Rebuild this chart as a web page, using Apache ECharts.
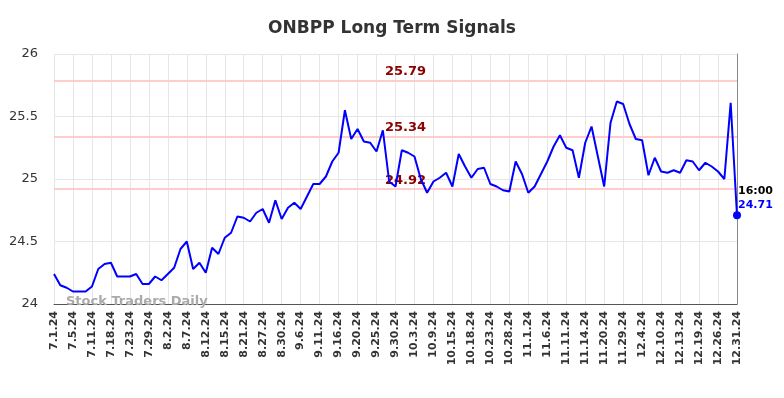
<!DOCTYPE html>
<html lang="en" style="height: 100%">
<head>
  <meta charset="utf-8">
</head>
<body style="height: 100%; margin: 0">
  <div id="container" style="width: 784px; height: 398px"></div>

  <script type="text/javascript" src="https://cdn.jsdelivr.net/npm/echarts@6/dist/echarts.min.js"></script>

  <script type="text/javascript">
    const dates = [
      '7.1.24', '7.2.24', '7.3.24', '7.5.24', '7.8.24', '7.10.24', '7.11.24', '7.12.24', '7.16.24',
      '7.18.24', '7.19.24', '7.22.24', '7.23.24', '7.24.24', '7.26.24', '7.29.24', '7.30.24', '8.1.24',
      '8.2.24', '8.5.24', '8.6.24', '8.7.24', '8.8.24', '8.9.24', '8.12.24', '8.13.24', '8.14.24',
      '8.15.24', '8.16.24', '8.19.24', '8.21.24', '8.22.24', '8.26.24', '8.27.24', '8.28.24', '8.29.24',
      '8.30.24', '9.3.24', '9.5.24', '9.6.24', '9.9.24', '9.10.24', '9.11.24', '9.12.24', '9.13.24',
      '9.16.24', '9.17.24', '9.19.24', '9.20.24', '9.23.24', '9.24.24', '9.25.24', '9.26.24', '9.27.24',
      '9.30.24', '10.1.24', '10.2.24', '10.3.24', '10.7.24', '10.8.24', '10.9.24', '10.11.24', '10.14.24',
      '10.15.24', '10.16.24', '10.17.24', '10.18.24', '10.21.24', '10.22.24', '10.23.24', '10.24.24', '10.25.24',
      '10.28.24', '10.30.24', '10.31.24', '11.1.24', '11.4.24', '11.5.24', '11.6.24', '11.7.24', '11.8.24',
      '11.11.24', '11.12.24', '11.13.24', '11.14.24', '11.18.24', '11.19.24', '11.20.24', '11.22.24', '11.27.24',
      '11.29.24', '12.2.24', '12.3.24', '12.4.24', '12.5.24', '12.9.24', '12.10.24', '12.11.24', '12.12.24',
      '12.13.24', '12.17.24', '12.18.24', '12.19.24', '12.20.24', '12.24.24', '12.26.24', '12.27.24', '12.30.24',
      '12.31.24'
    ];
    const prices = [
      24.24, 24.15, 24.13, 24.10, 24.10, 24.10, 24.14, 24.28, 24.32, 24.33,
      24.22, 24.22, 24.22, 24.24, 24.16, 24.16, 24.22, 24.19, 24.24, 24.29,
      24.44, 24.50, 24.28, 24.33, 24.25, 24.45, 24.40, 24.53, 24.57, 24.70,
      24.69, 24.66, 24.73, 24.76, 24.65, 24.83, 24.68, 24.77, 24.81, 24.76,
      24.86, 24.96, 24.96, 25.02, 25.14, 25.21, 25.55, 25.32, 25.40, 25.30,
      25.29, 25.22, 25.39, 24.98, 24.94, 25.23, 25.21, 25.18, 25.00, 24.89,
      24.98, 25.01, 25.05, 24.94, 25.20, 25.10, 25.01, 25.08, 25.09, 24.96,
      24.94, 24.91, 24.90, 25.14, 25.04, 24.89, 24.94, 25.04, 25.14, 25.26,
      25.35, 25.25, 25.23, 25.01, 25.29, 25.42, 25.18, 24.94, 25.45, 25.62,
      25.60, 25.44, 25.32, 25.31, 25.03, 25.17, 25.06, 25.05, 25.07, 25.05,
      25.15, 25.14, 25.07, 25.13, 25.10, 25.06, 25.00, 25.61, 24.71
    ];
    const signalLevels = [25.79, 25.34, 24.92];
    const yTicks = [24, 24.5, 25, 25.5, 26];
    const lastTime = '16:00';

    var dom = document.getElementById('container');
    var myChart = echarts.init(dom, null, { renderer: 'canvas' });

    const lastIdx = prices.length - 1;

    var option = {
      animation: false,
      title: {
        text: 'ONBPP Long Term Signals',
        left: 'center',
        top: 15,
        textStyle: { fontSize: 17, fontWeight: 'bold', color: '#333', fontFamily: 'DejaVu Sans' }
      },
      grid: { left: 54, right: 47, top: 54, bottom: 94 },
      graphic: [
        {
          type: 'text',
          left: 66,
          top: 295,
          z: 10,
          style: {
            text: 'Stock Traders Daily',
            fill: '#aaaaaa',
            font: 'bold 13px DejaVu Sans'
          }
        }
      ],
      xAxis: {
        type: 'category',
        data: dates,
        boundaryGap: false,
        axisLine: { lineStyle: { color: '#555', width: 1 } },
        axisTick: { show: false },
        axisLabel: {
          interval: 2,
          rotate: 90,
          margin: 7,
          color: '#333',
          fontSize: 11,
          fontWeight: 'bold',
          fontFamily: 'DejaVu Sans'
        },
        splitLine: { show: true, interval: 2, lineStyle: { color: '#e6e6e6', width: 1 } }
      },
      yAxis: [
        {
          type: 'value',
          min: yTicks[0],
          max: yTicks[yTicks.length - 1],
          interval: 0.5,
          axisLine: { show: false },
          axisTick: { show: false },
          axisLabel: {
            margin: 16,
            color: '#333',
            fontSize: 13,
            fontFamily: 'DejaVu Sans',
            formatter: function (v) { return String(v); }
          },
          splitLine: { lineStyle: { color: '#e6e6e6', width: 1 } }
        },
        {
          type: 'value',
          position: 'right',
          min: yTicks[0],
          max: yTicks[yTicks.length - 1],
          interval: 0.5,
          axisLine: { show: true, lineStyle: { color: '#888', width: 1 } },
          axisTick: { show: false },
          axisLabel: { show: false },
          splitLine: { show: false }
        }
      ],
      series: [
        {
          type: 'line',
          data: prices,
          showSymbol: false,
          symbol: 'none',
          lineStyle: { color: '#0000ff', width: 2 },
          itemStyle: { color: '#0000ff' },
          z: 5,
          markLine: {
            silent: true,
            symbol: 'none',
            lineStyle: { color: '#ffcccc', width: 2, type: 'solid' },
            label: {
              show: true,
              position: 'insideMiddleTop',
              distance: [0, 2],
              offset: [10, 0],
              color: '#8b0000',
              fontSize: 13,
              fontWeight: 'bold',
              fontFamily: 'DejaVu Sans',
              formatter: function (p) { return p.value.toFixed(2); }
            },
            data: signalLevels.map(function (v) { return { yAxis: v }; })
          }
        },
        {
          type: 'scatter',
          data: [[lastIdx, prices[lastIdx]]],
          symbol: 'circle',
          symbolSize: 8,
          itemStyle: { color: '#0000ff', opacity: 1 },
          z: 6,
          label: {
            show: true,
            position: 'right',
            offset: [-8, -17],
            formatter: '{t|' + lastTime + '}\n{v|' + prices[lastIdx].toFixed(2) + '}',
            rich: {
              t: { color: '#000', fontSize: 11, fontWeight: 'bold', lineHeight: 14, fontFamily: 'DejaVu Sans' },
              v: { color: '#0000ff', fontSize: 11, fontWeight: 'bold', lineHeight: 14, fontFamily: 'DejaVu Sans' }
            }
          }
        }
      ]
    };

    myChart.setOption(option);
    window.addEventListener('resize', myChart.resize);
  </script>
</body>
</html>
